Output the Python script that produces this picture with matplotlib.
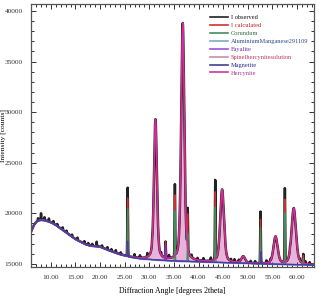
import numpy as np
import matplotlib
matplotlib.use("Agg")
import matplotlib.pyplot as plt
from matplotlib.ticker import MultipleLocator, FormatStrFormatter
from matplotlib.lines import Line2D

plt.rcParams["font.family"] = ["Liberation Serif", "DejaVu Serif"]

# background knots (2theta, counts)
bkg_x = [5.9, 6.5, 7.0, 7.5, 8.0, 8.5, 9.0, 10.0, 11.0, 12.0, 13.0, 14.0, 15.0,
         16.0, 17.0, 18.0, 20.0, 22.0, 24.0, 26.0, 28.0, 30.0, 32.0, 35.0,
         40.0, 45.0, 50.0, 55.0, 60.0, 63.5]
bkg_y = [18100, 18800, 19150, 19300, 19350, 19330, 19280, 19120, 18850, 18500,
         18150, 17800, 17450, 17200, 16950, 16800, 16700, 16300, 15950, 15700,
         15520, 15450, 15380, 15300, 15220, 15130, 15050, 14980, 14940, 14900]

# Hercynite peaks: position, height above background, FWHM
herc_pos = [31.25, 36.80, 44.80, 49.10, 55.65, 59.35]
herc_amp = [13850, 23500, 7200, 650, 2700, 5550]
herc_fwhm = [0.70, 0.75, 0.90, 0.90, 1.00, 1.05]

# Corundum peaks: position, observed height above background
cor_pos = [25.60, 35.20, 37.80, 43.40, 52.60, 57.55, 61.30]
cor_amp = [6750, 7050, 4000, 7830, 5100, 7280, 900]
cor_fwhm = 0.14

# Fayalite / Magnetite minor reflections
fay_pos = [33.30]
fay_amp = [1600]
mag_pos = [25.60, 52.70]
mag_amp = [1500, 1200]

# sharp spikes / noise in the observed pattern
spike_pos = [7.4, 8.0, 8.7, 9.6, 10.5, 11.3, 12.4, 13.2, 14.3, 15.4, 16.8, 17.6,
             18.4, 19.3, 20.4, 21.5, 22.3, 23.2, 24.2, 27.0, 28.1, 29.6, 30.6,
             32.4, 34.0, 38.6, 39.8, 41.0, 42.5, 46.6, 47.3, 48.2, 50.6, 51.5,
             53.8, 54.6, 58.6, 60.6, 61.7, 62.6]
spike_amp = [250, 650, 300, 300, 250, 200, 250, 200, 200, 250, 250, 200,
             200, 450, 200, 250, 200, 250, 200, 300, 250, 350, 300,
             250, 300, 250, 200, 250, 300, 200, 250, 200, 200, 200,
             250, 200, 250, 200, 250, 200]

x = np.arange(5.9, 63.5, 0.01)
bkg = np.interp(x, bkg_x, bkg_y)


def peaks(pos, amp, fwhm, eta=0.0):
    out = np.zeros_like(x)
    fw = fwhm if np.iterable(fwhm) else [fwhm] * len(pos)
    for p, a, w in zip(pos, amp, fw):
        g = np.exp(-4 * np.log(2) * ((x - p) / w) ** 2)
        lz = 1.0 / (1.0 + 4 * ((x - p) / w) ** 2)
        out += a * ((1 - eta) * g + eta * lz)
    return out


herc = peaks(herc_pos, herc_amp, herc_fwhm, eta=0.4)
cor = peaks(cor_pos, cor_amp, cor_fwhm)
fay = peaks(fay_pos, fay_amp, 0.12)
mag = peaks(mag_pos, mag_amp, 0.12)
spk = peaks(spike_pos, spike_amp, 0.10)

observed = bkg + herc + cor + fay + spk
calculated = bkg + herc + 0.85 * cor + fay
corundum_line = bkg + 0.70 * cor
herc_line = bkg + herc

fig = plt.figure(figsize=(3.19, 3.01), dpi=100)
ax = fig.add_axes([0.097, 0.113, 0.887, 0.874])

ax.plot(x, bkg - 80, color="#a8a8dc", lw=0.6)
ax.plot(x, observed, color="#222222", lw=1.8)
ax.plot(x, calculated, color="#d03030", lw=0.9)
ax.plot(x, corundum_line, color="#3c9060", lw=0.9)
ax.fill_between(x, bkg, herc_line, color="#e8b4dc", lw=0)
ax.plot(x, herc_line, color="#d02ca0", lw=1.0)
ax.plot(x, bkg + fay, color="#8a30d0", lw=0.9)
ax.plot(x, bkg + mag, color="#4040a0", lw=0.9)

ax.set_xlim(5.95, 63.45)
ax.set_ylim(14700, 40700)
ax.xaxis.set_major_locator(MultipleLocator(5))
ax.xaxis.set_minor_locator(MultipleLocator(1))
ax.yaxis.set_major_locator(MultipleLocator(5000))
ax.yaxis.set_minor_locator(MultipleLocator(1000))
ax.xaxis.set_major_formatter(FormatStrFormatter("%.2f"))
ax.tick_params(which="both", direction="in", top=True, right=True,
               labelsize=5.3, width=0.7, colors="#333333")
ax.tick_params(which="major", length=3.5, pad=6)
ax.tick_params(which="minor", length=2)
for s in ax.spines.values():
    s.set_color("#555555")
    s.set_linewidth(0.9)

ax.set_xlabel("Diffraction Angle [degrees 2theta]", fontsize=5.6, labelpad=5)
ax.set_ylabel("Intensity [counts]", fontsize=5.4)
ax.yaxis.set_label_coords(-0.088, 0.5)

names = ["I observed", "I calculated", "Corundum", "AluminiumManganese291109",
         "Fayalite", "Spinelhercynitesolution", "Magnetite", "Hercynite"]
line_colors = ["#222222", "#d03030", "#3c9060", "#7aaec8", "#a050d8",
               "#c890a8", "#404090", "#c83aa0"]
text_colors = ["#111111", "#c02020", "#2e6e3e", "#2a4a8a", "#6a2ba8",
               "#c0305a", "#2a2a8a", "#b0308a"]
handles = [Line2D([], [], color=c, lw=1.2) for c in line_colors]
ax.legend(handles, names, loc="upper left", bbox_to_anchor=(0.632, 0.958),
          frameon=False, fontsize=4.6, labelcolor=text_colors,
          handlelength=2.8, handletextpad=0.5, labelspacing=0.38,
          borderpad=0, borderaxespad=0)

fig.savefig("out.png", dpi=100)
